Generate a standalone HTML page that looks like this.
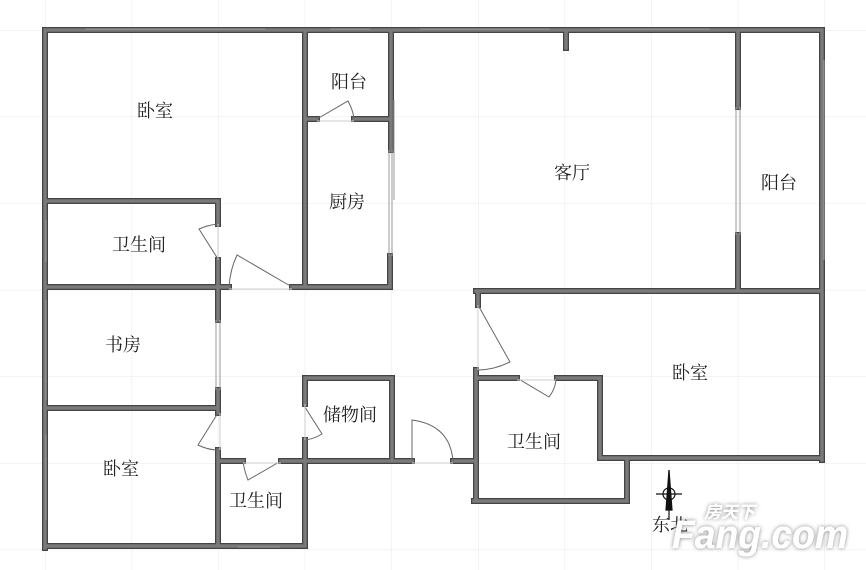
<!DOCTYPE html>
<html><head><meta charset="utf-8"><style>
html,body{margin:0;padding:0;background:#fff;}
svg{display:block;}
text{font-family:"Liberation Serif","Noto Serif CJK SC",serif;font-size:18px;fill:#222;}
</style></head><body>
<svg width="866" height="570" viewBox="0 0 866 570" xmlns="http://www.w3.org/2000/svg">
<defs>
<pattern id="g" x="45" y="30" width="86.6" height="86.6" patternUnits="userSpaceOnUse">
<path d="M0 0H86.6M0 0V86.6" stroke="#e8e8e8" stroke-width="1" fill="none"/>
</pattern>
<filter id="sh" x="-10%" y="-30%" width="120%" height="160%">
<feGaussianBlur in="SourceAlpha" stdDeviation="2"/>
<feComponentTransfer><feFuncA type="linear" slope="0.5"/></feComponentTransfer>
<feMerge><feMergeNode/><feMergeNode in="SourceGraphic"/></feMerge>
</filter>
<path id="w" d="M45 30H822 M822 30V460 M45 30V548 M45 546H305
M45 201H218V224 M218 260V290
M45 287H229 M292 287H390V256 M391 30V150
M305 30V287 M305 119H317 M354 119H390
M566 30V48 M738 30V107 M738 235V290
M476 291H822 M478 291V305 M476 370V501
M476 378H517 M557 378H600V458H822 M627 458V501H474
M305 461H412 M453 461H474
M305 378H392V461 M305 378V404 M305 440V461
M218 287V320 M218 390V413 M218 450V546
M45 408H218
M218 461H243 M281 461H305 M305 461V546"/>
</defs>
<rect width="866" height="570" fill="url(#g)"/>
<use href="#w" stroke="#444" stroke-width="6" fill="none" stroke-linecap="square"/>
<use href="#w" stroke="#7a7a7a" stroke-width="3.5" fill="none" stroke-linecap="square"/>
<!-- windows -->
<g stroke="#999" stroke-width="1" fill="none">
<path d="M394 100V200 M389 150V256 M392 150V256 M736 107V235 M740 107V235 M46 220V262 M46 300V400 M46 435V520 M238 547H280 M216 320V390 M220 320V390 M824 60V260 M85 29H265 M330 29H370 M420 29H550 M600 29H710"/>
</g>
<!-- doors -->
<g stroke="#666" stroke-width="1" fill="none">
<path d="M218 259L199 229Q208 225 218 224"/>
<path d="M292 287L237 255Q230 270 229 287"/>
<path d="M317 119L348 101Q353 110 354 119"/>
<path d="M478 305L510 362Q494 370 478 370"/>
<path d="M517 378L549 397Q556 388 556 378"/>
<path d="M303 404L322 434Q312 440 303 440"/>
<path d="M412 461V420Q450 425 453 461"/>
<path d="M218 413L198 445Q208 450 218 450"/>
<path d="M281 461L248 480Q244 470 243 461"/>
</g>
<g stroke="#ccc" stroke-width="1"><path d="M229 289H292 M317 121H354 M478 305V370 M517 380H556 M305 404V440 M412 463H453 M220 413V450 M243 463H281 M218 224V260"/></g>
<!-- compass -->
<g stroke="#111" stroke-width="1.2" fill="none">
<circle cx="669" cy="494" r="6"/>
<path d="M656 494H682 M669 470V520"/>
<path d="M669 470L666 510H672Z" fill="#111"/>
</g>
<text x="155" y="117" text-anchor="middle">卧室</text>
<text x="349" y="88" text-anchor="middle">阳台</text>
<text x="347" y="208" text-anchor="middle">厨房</text>
<text x="139" y="251" text-anchor="middle">卫生间</text>
<text x="572" y="179" text-anchor="middle">客厅</text>
<text x="779" y="189" text-anchor="middle">阳台</text>
<text x="123" y="351" text-anchor="middle">书房</text>
<text x="350" y="421" text-anchor="middle">储物间</text>
<text x="690" y="379" text-anchor="middle">卧室</text>
<text x="534" y="448" text-anchor="middle">卫生间</text>
<text x="121" y="475" text-anchor="middle">卧室</text>
<text x="256" y="507" text-anchor="middle">卫生间</text>
<text x="670" y="531" text-anchor="middle">东北</text>
<g filter="url(#sh)">
<text x="704" y="518" style="font-size:17px;fill:#fff;font-family:'Noto Sans CJK SC',sans-serif;font-weight:bold;font-style:italic">房天下</text>
<text x="672" y="548" textLength="176" lengthAdjust="spacingAndGlyphs" style="font-size:40px;fill:#fff;font-family:'Liberation Sans',sans-serif;font-weight:bold;font-style:italic">Fang.com</text>
</g>
</svg>
</body></html>
